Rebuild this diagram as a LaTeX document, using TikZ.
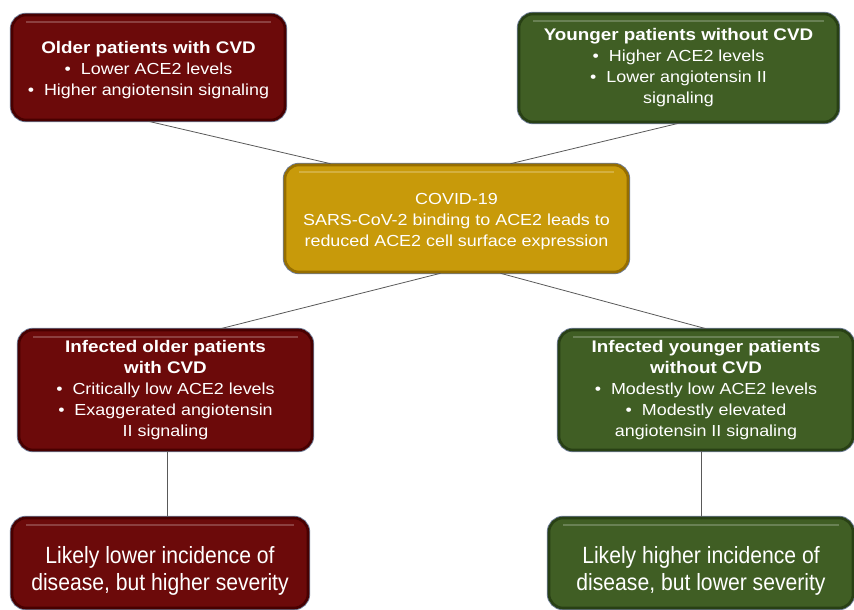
\documentclass[tikz,border=0pt]{standalone}
\usepackage{fontspec}
\setmainfont{Liberation Sans}
\newfontfamily\boxfont[FakeStretch=1.12]{Liberation Sans}
\newfontfamily\narrowfont[FakeStretch=0.9]{Liberation Sans}
\usetikzlibrary{positioning}
\definecolor{cvdred}{RGB}{108,10,10}
\definecolor{cvdredrim}{RGB}{72,0,0}
\definecolor{younggreen}{RGB}{64,94,36}
\definecolor{younggreenrim}{RGB}{40,64,20}
\definecolor{covidgold}{RGB}{200,154,10}
\definecolor{covidgoldrim}{RGB}{150,110,0}
\definecolor{rimgray}{RGB}{110,124,150}
\newcommand{\grouphead}[1]{{\bfseries\fontsize{16.8}{21}\selectfont #1}}

\begin{document}
\begin{tikzpicture}[x=1pt,y=-1pt,font=\boxfont\fontsize{16}{21}\selectfont,
  box/.style={rounded corners=14pt,line width=2.6pt,text=white,align=center,inner sep=0pt,
    preaction={draw=rimgray,line width=4.4pt},
    path picture={\draw[white,opacity=0.22,line width=2pt]
      ([xshift=14pt,yshift=-7pt]path picture bounding box.north west) --
      ([xshift=-14pt,yshift=-7pt]path picture bounding box.north east);}},
  redbox/.style={box,fill=cvdred,draw=cvdredrim},
  greenbox/.style={box,fill=younggreen,draw=younggreenrim},
  goldbox/.style={box,fill=covidgold,draw=covidgoldrim},
  outcome/.style={font=\narrowfont\fontsize{23.5}{27}\selectfont},
  link/.style={draw=black!65,line width=0.8pt}]
\useasboundingbox (0,0) rectangle (854,610);

% patient groups before infection
\node[redbox,minimum width=273pt,minimum height=105pt] (older) at (148.5,67.5)
  {\rule{0pt}{18pt}\grouphead{Older patients with CVD}\\
   \textbullet\ \ Lower ACE2 levels\\
   \textbullet\ \ Higher angiotensin signaling};
\node[greenbox,minimum width=319pt,minimum height=108pt] (younger) at (678.5,68)
  {\grouphead{Younger patients without CVD}\\
   \textbullet\ \ Higher ACE2 levels\\
   \textbullet\ \ Lower angiotensin II\\
   signaling};

\node[goldbox,minimum width=343pt,minimum height=107pt] (covid) at (456.5,218.5)
  {\rule{0pt}{18pt}COVID-19\\
   SARS-CoV-2 binding to ACE2 leads to\\
   reduced ACE2 cell surface expression};

% infected groups
\node[redbox,minimum width=293pt,minimum height=120pt] (infold) at (165.5,390)
  {\grouphead{Infected older patients}\\ \grouphead{with CVD}\\
   \textbullet\ \ Critically low ACE2 levels\\
   \textbullet\ \ Exaggerated angiotensin\\
   II signaling};
\node[greenbox,minimum width=294pt,minimum height=120pt] (infyoung) at (706,390)
  {\grouphead{Infected younger patients}\\ \grouphead{without CVD}\\
   \textbullet\ \ Modestly low ACE2 levels\\
   \textbullet\ \ Modestly elevated\\
   angiotensin II signaling};

% outcomes, text sits a little low in its box
\node[redbox,outcome,minimum width=296pt,minimum height=90pt] (likelow) at (160,563)
  {\rule{0pt}{32pt}Likely lower incidence of\\ disease, but higher severity};
\node[greenbox,outcome,minimum width=304pt,minimum height=90pt] (likehigh) at (701,563)
  {\rule{0pt}{32pt}Likely higher incidence of\\ disease, but lower severity};

\draw[link] (older.south) -- ([xshift=-126pt]covid.north);
\draw[link] (younger.south) -- ([xshift=54pt]covid.north);
\draw[link] ([xshift=-16pt]covid.south) -- ([xshift=55pt]infold.north);
\draw[link] ([xshift=44pt]covid.south) -- (infyoung.north);
\draw[link] ([xshift=1.5pt]infold.south) -- ([xshift=1.5pt]infold.south |- likelow.north);
\draw[link] (likehigh.north |- infyoung.south) -- (likehigh.north);
\end{tikzpicture}
\end{document}
